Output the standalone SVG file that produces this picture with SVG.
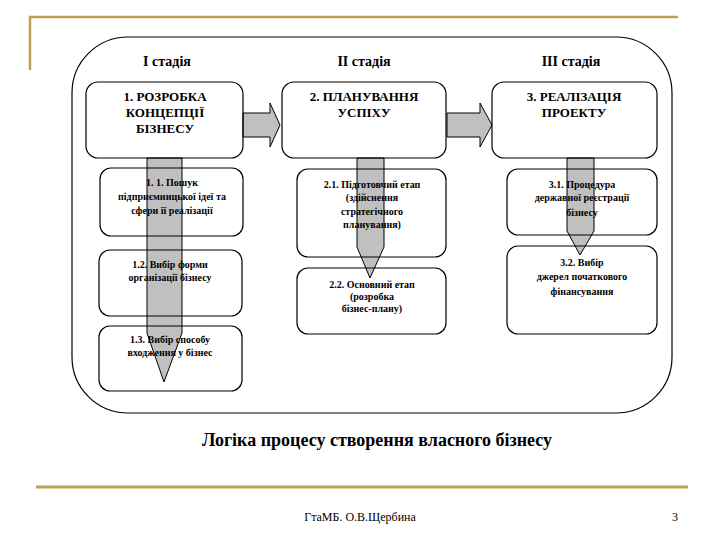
<svg xmlns="http://www.w3.org/2000/svg" width="720" height="540" viewBox="0 0 720 540">
<style>
.box{fill:none;stroke:#000;stroke-width:1.2}
.arr{fill:#c0c0c0;stroke:#000;stroke-width:1}
.t{font-family:'Liberation Serif','DejaVu Serif',serif;font-weight:bold;fill:#000;text-anchor:middle}
.f{font-family:'Liberation Serif','DejaVu Serif',serif;font-size:12px;fill:#000;text-anchor:middle}
.m{font-size:13px}
.s{font-size:10px}
.h{font-size:14px}
.gold{stroke:#bca050;fill:none}
</style>
<rect width="720" height="540" fill="#fff"/>
<g id="decor">
<path class="gold" d="M30,70 V17 H678" stroke-width="2.5"/>
<line class="gold" x1="36" y1="487" x2="688" y2="487" stroke-width="3"/>
</g>
<rect id="frame" x="72" y="37" width="600" height="376" rx="56" ry="56" fill="none" stroke="#000" stroke-width="1.2"/>
<g id="stages">
<text class="t h" x="167" y="66">I стадія</text>
<text class="t h" x="364" y="66">II стадія</text>
<text class="t h" x="571" y="66">III стадія</text>
</g>
<g id="connectors">
<path class="arr" d="M243,113 H270 V103 L280,125 L270,147 V137 H243 Z"/>
<path class="arr" d="M447,113 H480 V103 L492,125 L480,147 V137 H447 Z"/>
<path class="arr" d="M147,158 V333 L164,382 L182,333 V158 Z"/>
<path class="arr" d="M357,158 V247 L370,278 L384,247 V158 Z"/>
<path class="arr" d="M567,158 V231 L580,255 L594,231 V158 Z"/>
</g>
<g id="n1">
<rect class="box" x="86" y="82" width="157" height="76" rx="12"/>
<text class="t m" x="165" y="101">1. РОЗРОБКА</text>
<text class="t m" x="165" y="117">КОНЦЕПЦІЇ</text>
<text class="t m" x="165" y="133">БІЗНЕСУ</text>
</g>
<g id="n2">
<rect class="box" x="282" y="82" width="164" height="76" rx="12"/>
<text class="t m" x="364" y="101">2. ПЛАНУВАННЯ</text>
<text class="t m" x="364" y="117">УСПІХУ</text>
</g>
<g id="n3">
<rect class="box" x="492" y="82" width="165" height="76" rx="12"/>
<text class="t m" x="574" y="101">3. РЕАЛІЗАЦІЯ</text>
<text class="t m" x="574" y="117">ПРОЕКТУ</text>
</g>
<g id="n11">
<rect class="box" x="100" y="168" width="143" height="68" rx="11"/>
<text class="t s" x="172" y="186">1. 1. Пошук</text>
<text class="t s" x="172" y="200">підприємницької ідеї та</text>
<text class="t s" x="172" y="214">сфери її реалізації</text>
</g>
<g id="n12">
<rect class="box" x="99" y="250" width="143" height="66" rx="11"/>
<text class="t s" x="170" y="268">1.2. Вибір форми</text>
<text class="t s" x="170" y="281">організації бізнесу</text>
</g>
<g id="n13">
<rect class="box" x="99" y="326" width="143" height="65" rx="11"/>
<text class="t s" x="170" y="343">1.3. Вибір способу</text>
<text class="t s" x="170" y="356">входження у бізнес</text>
</g>
<g id="n21">
<rect class="box" x="297" y="169" width="149" height="88" rx="11"/>
<text class="t s" x="372" y="188">2.1. Підготовчий етап</text>
<text class="t s" x="372" y="201">(здійснення</text>
<text class="t s" x="372" y="215">стратегічного</text>
<text class="t s" x="372" y="228">планування)</text>
</g>
<g id="n22">
<rect class="box" x="297" y="268" width="149" height="66" rx="11"/>
<text class="t s" x="372" y="288">2.2. Основний етап</text>
<text class="t s" x="372" y="300">(розробка</text>
<text class="t s" x="372" y="312">бізнес-плану)</text>
</g>
<g id="n31">
<rect class="box" x="507" y="169" width="150" height="66" rx="11"/>
<text class="t s" x="582" y="188">3.1. Процедура</text>
<text class="t s" x="582" y="201">державної реєстрації</text>
<text class="t s" x="582" y="216">бізнесу</text>
</g>
<g id="n32">
<rect class="box" x="507" y="246" width="150" height="88" rx="11"/>
<text class="t s" x="582" y="266">3.2. Вибір</text>
<text class="t s" x="582" y="280">джерел початкового</text>
<text class="t s" x="582" y="295">фінансування</text>
</g>
<text class="t" x="377" y="446" font-size="18">Логіка процесу створення власного бізнесу</text>
<text class="f" x="360" y="521">ГтаМБ. О.В.Щербина</text>
<text class="f" x="675" y="521">3</text>
</svg>
